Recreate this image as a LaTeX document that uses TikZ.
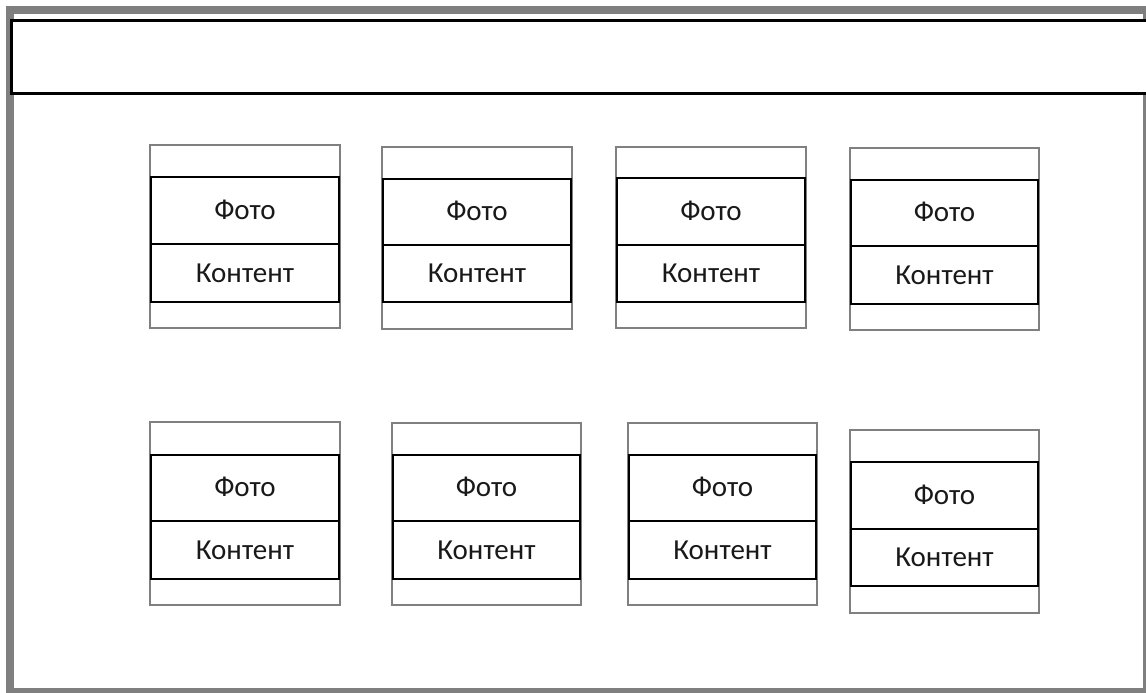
\documentclass[tikz,border=0pt]{standalone}
\usepackage{fontspec}
\setmainfont{Carlito}
\definecolor{framegray}{RGB}{127,127,127}
\definecolor{cardgray}{RGB}{128,128,128}
\tikzset{
  pageframe/.style={draw=framegray, line width=8pt},
  headerbar/.style={draw=black, fill=white, line width=3pt},
  cardframe/.style={draw=cardgray, line width=2.3pt},
  cardrow/.style={draw=black, line width=1.5pt},
  cardtext/.style={inner sep=0pt, text=black!90, font=\fontsize{29}{33}\selectfont}
}
% #1 name, #2 left, #3 right, #4 top, #5 photo top, #6 divider, #7 content bottom, #8 bottom
\newcommand{\cardbox}[8]{%
  \draw[cardframe] (#2,#4) rectangle (#3,#8);
  \draw[cardrow] (#2+1,#5) rectangle (#3-1,#6);
  \draw[cardrow] (#2+1,#6) rectangle (#3-1,#7);
  \node[cardtext] (#1photo) at ({(#2+#3)/2},{(#5+#6)/2-1}) {Фото};
  \node[cardtext] (#1content) at ({(#2+#3)/2},{(#6+#7)/2}) {Контент};
}
\begin{document}
\begin{tikzpicture}[x=1pt,y=-1pt]
  \useasboundingbox (0,0) rectangle (1146,693);
  \clip (0,0) rectangle (1146,693);
  \fill[white] (0,0) rectangle (1146,693);
  % page frame and header bar
  \draw[pageframe] (10,10) rectangle (1147,692);
  \draw[headerbar] (11,21) rectangle (1170,93);
  % first row of cards
  \cardbox{a}{150}{340}{145}{177}{244}{302}{328}
  \cardbox{b}{382}{572}{147}{179}{245}{302}{329}
  \cardbox{c}{616}{806}{147}{178}{245}{302}{328}
  \cardbox{d}{850}{1039}{148}{180}{246}{304}{330}
  % second row of cards
  \cardbox{e}{150}{340}{422}{455}{521}{579}{605}
  \cardbox{f}{392}{581}{423}{455}{521}{579}{605}
  \cardbox{g}{628}{817}{423}{455}{521}{579}{605}
  \cardbox{h}{850}{1039}{430}{462}{529}{586}{613}
\end{tikzpicture}
\end{document}
